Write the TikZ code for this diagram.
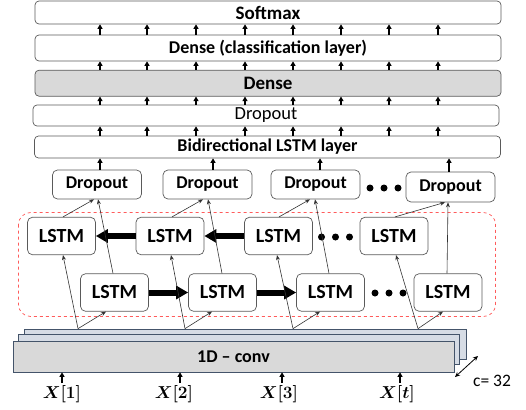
\documentclass[tikz,border=0pt]{standalone}
\usepackage{fontspec}
\setmainfont{Carlito}
\usepackage{amsmath,bm}
\usetikzlibrary{arrows.meta,calc}
\definecolor{boxline}{HTML}{5A5A5A}
\definecolor{grayfill}{HTML}{D9D9D9}
\definecolor{convline}{HTML}{44546A}
\definecolor{convback}{HTML}{D6DCE5}
\definecolor{reddash}{HTML}{FF5B5B}
\tikzset{
  layerbox/.style={draw=boxline, line width=0.7pt, rounded corners=4pt, minimum width=466pt, inner sep=0pt},
  lstmbox/.style={draw=boxline, line width=0.7pt, rounded corners=5pt, minimum width=68pt, minimum height=37.5pt, inner sep=0pt, font=\fontsize{20}{22}\selectfont\bfseries},
  dropbox/.style={draw=boxline, line width=0.7pt, rounded corners=5pt, minimum width=89pt, minimum height=29pt, inner sep=0pt, font=\fontsize{18}{20}\selectfont\bfseries},
  convbox/.style={draw=convline, line width=0.7pt, minimum width=441pt, minimum height=30pt, inner sep=0pt},
  sarrow/.style={line width=1.1pt, -{Triangle[length=4.5pt,width=5pt]}},
  thinarrow/.style={draw=black!80, line width=0.6pt, -{Stealth[length=5pt,width=4pt]}},
  thickarrow/.style={line width=6pt, -{Triangle[length=12pt,width=13pt]}},
  dotmark/.style={circle, fill=black, minimum size=7pt, inner sep=0pt},
  xlab/.style={font=\fontsize{18.5}{20}\selectfont, inner sep=0pt}
}
\begin{document}
\begin{tikzpicture}[x=1pt,y=-1pt]
\useasboundingbox (0,0) rectangle (526,409);

% layer boxes
\node[layerbox, minimum height=23pt, font=\fontsize{19}{21}\selectfont\bfseries] (soft) at (268,12.5) {Softmax};
\node[layerbox, minimum height=26pt, font=\fontsize{18}{20}\selectfont\bfseries] (dcl) at (268,48) {Dense (classification layer)};
\node[layerbox, minimum height=26pt, fill=grayfill, font=\fontsize{19}{21}\selectfont\bfseries] (dense) at (268,83.2) {Dense};
\node[layerbox, minimum height=21pt, font=\fontsize{18.5}{20}\selectfont] (drop) at (266,115.5) {Dropout};
\node[layerbox, minimum height=22pt, font=\fontsize{18}{20}\selectfont\bfseries] (bidir) at (267.5,147) {Bidirectional LSTM layer};

\foreach \x in {100,147,196,245,293,341,389,438}{
  \coordinate (t) at (\x,0);
  \draw[sarrow] (dcl.north -| t) -- (soft.south -| t);
  \draw[sarrow] (dense.north -| t) -- (dcl.south -| t);
  \draw[sarrow] (drop.north -| t) -- (dense.south -| t);
  \draw[sarrow] (bidir.north -| t) -- (drop.south -| t);
}

% red dashed region
\draw[reddash, dashed, line width=0.7pt, rounded corners=12pt] (18.5,212.5) rectangle (495.5,316.5);

% dropout boxes
\node[dropbox] (d1) at (97,184.5) {Dropout};
\node[dropbox] (d2) at (207.5,184.5) {Dropout};
\node[dropbox] (d3) at (315.5,184.5) {Dropout};
\node[dropbox, minimum height=30pt] (d4) at (450.5,187) {Dropout};

\foreach \n/\x in {d1/100,d2/213,d3/320,d4/449}{
  \coordinate (t) at (\x,0);
  \draw[sarrow] (\n.north -| t) -- (bidir.south -| t);
}

% LSTM boxes
\node[lstmbox] (t1) at (61.5,236) {LSTM};
\node[lstmbox] (t2) at (170,236) {LSTM};
\node[lstmbox] (t3) at (278.5,236) {LSTM};
\node[lstmbox] (t4) at (394,236) {LSTM};
\node[lstmbox] (b1) at (114.5,292.5) {LSTM};
\node[lstmbox] (b2) at (222.5,292.5) {LSTM};
\node[lstmbox] (b3) at (330.5,292.5) {LSTM};
\node[lstmbox] (b4) at (448,292.5) {LSTM};

\draw[thickarrow] (t2.west) -- (t1.east);
\draw[thickarrow] (t3.west) -- (t2.east);
\draw[thickarrow] (b1.east) -- (b2.west);
\draw[thickarrow] (b2.east) -- (b3.west);

% dots
\node[dotmark] (p1) at (370,188) {};
\node[dotmark] (p2) at (384,188) {};
\node[dotmark] (p3) at (398,188) {};
\node[dotmark] (q1) at (321.5,237) {};
\node[dotmark] (q2) at (335.5,237) {};
\node[dotmark] (q3) at (349.5,237) {};
\node[dotmark] (r1) at (375,293) {};
\node[dotmark] (r2) at (389,293) {};
\node[dotmark] (r3) at (403,293) {};

% conv stack
\node[convbox, fill=convback, minimum width=442pt] (conv3) at (245,344) {};
\node[convbox, fill=convback, minimum width=441pt] (conv2) at (238.5,349.5) {};
\node[convbox, fill=grayfill, minimum height=31pt, font=\fontsize{18}{20}\selectfont\bfseries] (conv1) at (233.5,356.5) {1D -- conv};

% connectors from conv to LSTMs and dropouts
\foreach \c/\tt/\bb/\dd/\xc/\xt/\xb/\xbt/\xdb/\xtt/\xdt in {
  1/t1/b1/d1/78/63/106/113/98/63/94,
  2/t2/b2/d2/185/171/212/222/208/172/203,
  3/t3/b3/d3/293/277/320/329/315/279/310,
  4/t4/b4/d4/418/396/443/447/448/395/445}{
  \coordinate (cc) at (\xc,0);
  \coordinate (ct) at (\xt,0);
  \coordinate (cb) at (\xb,0);
  \coordinate (cbt) at (\xbt,0);
  \coordinate (cdb) at (\xdb,0);
  \coordinate (ctt) at (\xtt,0);
  \coordinate (cdt) at (\xdt,0);
  \draw[thinarrow] (conv3.north -| cc) -- (\tt.south -| ct);
  \draw[thinarrow] (conv3.north -| cc) -- (\bb.south -| cb);
  \draw[thinarrow] (\bb.north -| cbt) -- (\dd.south -| cdb);
  \draw[thinarrow] (\tt.north -| ctt) -- (\dd.south -| cdt);
}

% inputs
\node[xlab] (x1) at (62,394) {$\bm{X[1]}$};
\node[xlab] (x2) at (174,394) {$\bm{X[2]}$};
\node[xlab] (x3) at (279,394) {$\bm{X[3]}$};
\node[xlab] (x4) at (397,394) {$\bm{X[t]}$};
\foreach \n/\x in {x1/62,x2/180,x3/282,x4/400}{
  \coordinate (t) at (\x,383);
  \draw[sarrow] (t) -- (conv1.south -| t);
}

% channel arrow
\coordinate (ca) at (455,377);
\coordinate (cb2) at (478,356);
\draw[line width=0.8pt, {Stealth[length=5pt,width=4.5pt]}-{Stealth[length=5pt,width=4.5pt]}] (ca) -- (cb2);
\node[font=\fontsize{17.5}{19}\selectfont, inner sep=0pt] (ch) at (492,381) {c= 32};
\end{tikzpicture}
\end{document}
